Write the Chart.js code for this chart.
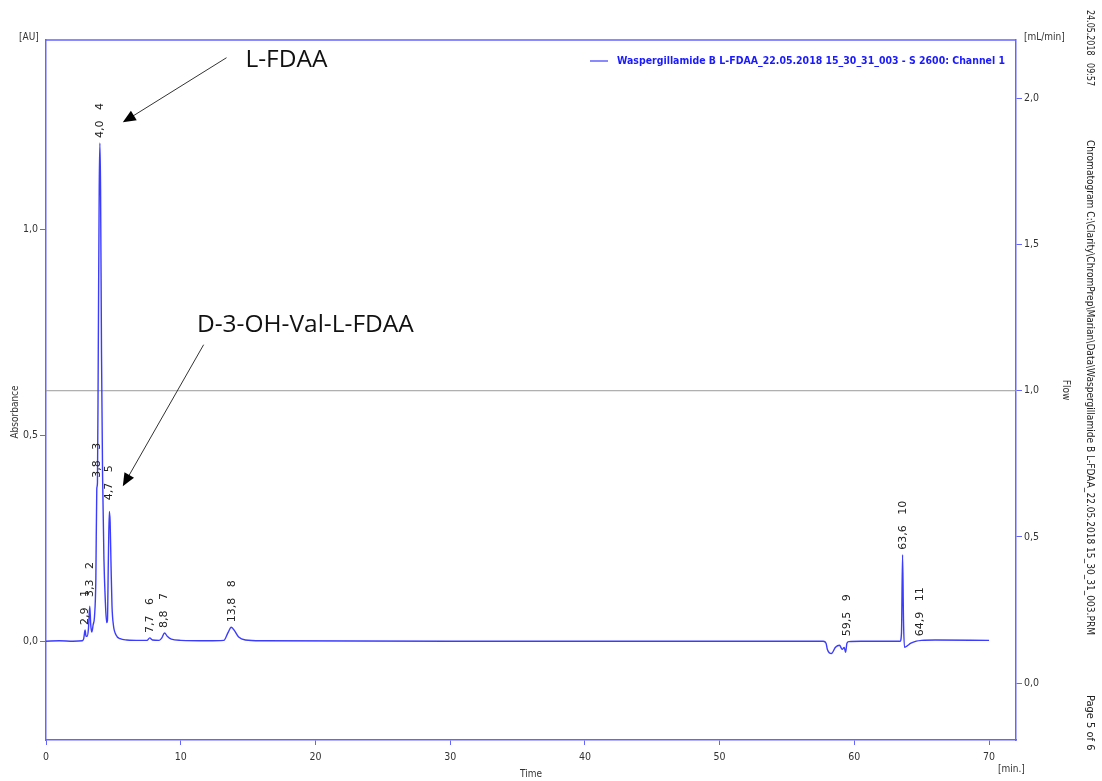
<!DOCTYPE html>
<html>
<head>
<meta charset="utf-8">
<script src="https://cdn.jsdelivr.net/npm/chart.js@4.4.1/dist/chart.umd.min.js"></script>
<style>
  body { margin: 0; background: #fff; }
  #wrap { width: 1102px; height: 781px; }
</style>
</head>
<body>
<div id="wrap"><canvas id="chromChart" width="1102" height="781"></canvas></div>
<script>
// ── DATA ──
// detector trace (time in min, absorbance in AU)
const traceTime = [0, 1, 2, 2.7, 2.8, 2.86, 2.9, 2.97, 3.05, 3.15, 3.25, 3.32, 3.4, 3.5, 3.6, 3.7, 3.77, 3.82,
  3.88, 3.95, 4.0, 4.05, 4.12, 4.2, 4.3, 4.4, 4.5, 4.56, 4.63, 4.7, 4.76, 4.83, 4.9, 5.0, 5.2, 5.5, 6, 7, 7.5,
  7.7, 7.9, 8.4, 8.6, 8.8, 9.0, 9.3, 10, 12, 13.2, 13.5, 13.75, 14.0, 14.3, 14.8, 16, 30, 45, 57.7, 57.9, 58.0,
  58.3, 58.6, 58.9, 59.1, 59.25, 59.35, 59.45, 59.6, 60.5, 63.4, 63.5, 63.58, 63.65, 63.72, 63.9, 64.2, 64.6,
  65, 66, 70];
const traceAU = [0, 0.001, 0, 0.001, 0.006, 0.02, 0.027, 0.012, 0.012, 0.03, 0.085, 0.04, 0.022, 0.04, 0.06,
  0.15, 0.37, 0.385, 0.7, 1.1, 1.21, 1.1, 0.7, 0.4, 0.2, 0.1, 0.045, 0.05, 0.2, 0.315, 0.29, 0.18, 0.085, 0.04,
  0.015, 0.006, 0.003, 0.002, 0.002, 0.008, 0.003, 0.002, 0.008, 0.02, 0.012, 0.005, 0.002, 0.001, 0.002, 0.02,
  0.034, 0.025, 0.01, 0.003, 0.001, 0, 0, 0, -0.005, -0.02, -0.03, -0.015, -0.01, -0.02, -0.015, -0.027, -0.005,
  -0.001, 0, 0, 0.02, 0.21, 0.05, -0.015, -0.012, -0.005, 0, 0.002, 0.003, 0.002];

// flow (mL/min)
const flowTime = [0, 72];
const flowRate = [1.0, 1.0];

// integrated peaks: retention time, peak number, apex used for the label
const peakTimes = [2.9, 3.3, 3.8, 4.0, 4.7, 7.7, 8.8, 13.8, 59.5, 63.6, 64.9];
const peakNumbers = [1, 2, 3, 4, 5, 6, 7, 8, 9, 10, 11];
const peakTops = [0.027, 0.095, 0.385, 1.21, 0.33, 0.008, 0.02, 0.034, 0.0, 0.21, 0.0];

// hand annotations (text anchor and arrow in data units)
const annoTexts = ['L-FDAA', 'D-3-OH-Val-L-FDAA'];
const annoTextT = [14.8, 11.2];
const annoTextA = [1.395, 0.752];
const arrowFromT = [13.4, 11.7];
const arrowFromA = [1.417, 0.72];
const arrowToT = [5.7, 5.7];
const arrowToA = [1.26, 0.376];

const legendText = 'Waspergillamide B L-FDAA_22.05.2018 15_30_31_003 - S 2600: Channel 1';
const sideTexts = ['24.05.2018   09:57',
  'Chromatogram C:\\Clarity\\ChromPrep\\Marian\\Data\\Waspergillamide B L-FDAA_22.05.2018 15_30_31_003.PRM',
  'Page 5 of 6'];

const AXIS = '#6464ff';
const TRACE = '#3c3cff';
const TXT = '#333';
const comma = v => v.toFixed(1).replace('.', ',');

// ── EXTRA DRAWING ──
const decorations = {
  id: 'decorations',
  afterDatasetsDraw(chart) {
    const { ctx, chartArea: ca, scales: { x, y } } = chart;
    ctx.save();

    // top frame line
    ctx.strokeStyle = AXIS;
    ctx.lineWidth = 1.5;
    ctx.beginPath();
    ctx.moveTo(ca.left, ca.top);
    ctx.lineTo(ca.right, ca.top);
    ctx.stroke();

    // peak labels
    ctx.font = '11px "DejaVu Sans"';
    ctx.fillStyle = '#222';
    ctx.textAlign = 'left';
    ctx.textBaseline = 'middle';
    peakTimes.forEach((t, i) => {
      ctx.save();
      ctx.translate(x.getPixelForValue(t), y.getPixelForValue(peakTops[i]) - 5);
      ctx.rotate(-Math.PI / 2);
      ctx.fillText(comma(t) + '   ' + peakNumbers[i], 0, 0);
      ctx.restore();
    });

    // annotations
    ctx.font = '24.5px "Open Sans"';
    ctx.textBaseline = 'alphabetic';
    annoTexts.forEach((s, i) => {
      ctx.fillStyle = '#111';
      ctx.fillText(s, x.getPixelForValue(annoTextT[i]), y.getPixelForValue(annoTextA[i]));
      const x0 = x.getPixelForValue(arrowFromT[i]), y0 = y.getPixelForValue(arrowFromA[i]);
      const x1 = x.getPixelForValue(arrowToT[i]), y1 = y.getPixelForValue(arrowToA[i]);
      const ang = Math.atan2(y1 - y0, x1 - x0);
      ctx.strokeStyle = '#333';
      ctx.lineWidth = 1;
      ctx.beginPath();
      ctx.moveTo(x0, y0);
      ctx.lineTo(x1 - 8 * Math.cos(ang), y1 - 8 * Math.sin(ang));
      ctx.stroke();
      ctx.fillStyle = '#000';
      ctx.beginPath();
      ctx.moveTo(x1, y1);
      ctx.lineTo(x1 - 13 * Math.cos(ang) + 5.5 * Math.sin(ang), y1 - 13 * Math.sin(ang) - 5.5 * Math.cos(ang));
      ctx.lineTo(x1 - 13 * Math.cos(ang) - 5.5 * Math.sin(ang), y1 - 13 * Math.sin(ang) + 5.5 * Math.cos(ang));
      ctx.closePath();
      ctx.fill();
    });

    // legend
    const ly = ca.top + 21;
    ctx.strokeStyle = TRACE;
    ctx.lineWidth = 1.2;
    ctx.beginPath();
    ctx.moveTo(590, ly);
    ctx.lineTo(608, ly);
    ctx.stroke();
    ctx.font = 'bold 10.5px "DejaVu Sans Condensed"';
    ctx.fillStyle = '#1a1aff';
    ctx.textBaseline = 'middle';
    ctx.fillText(legendText, 617, ly, 388);

    // unit labels
    ctx.font = '10px "DejaVu Sans Condensed"';
    ctx.fillStyle = TXT;
    ctx.fillText('[AU]', 19, 37);
    ctx.fillText('[mL/min]', 1024, 37);
    ctx.fillText('[min.]', 998, 769);

    // axis names
    ctx.save();
    ctx.translate(15, 412);
    ctx.rotate(-Math.PI / 2);
    ctx.textAlign = 'center';
    ctx.fillText('Absorbance', 0, 0);
    ctx.restore();
    ctx.save();
    ctx.translate(1066, 390);
    ctx.rotate(Math.PI / 2);
    ctx.textAlign = 'center';
    ctx.fillText('Flow', 0, 0);
    ctx.restore();

    // report side texts
    ctx.font = '11px "DejaVu Sans Condensed"';
    ctx.fillStyle = '#222';
    [[10, 76], [140, 495], [695, 62]].forEach(([top, len], i) => {
      ctx.save();
      ctx.translate(1090, top);
      ctx.rotate(Math.PI / 2);
      ctx.fillText(sideTexts[i], 0, 0, len);
      ctx.restore();
    });

    ctx.restore();
  }
};

// ── CHART ──
const ctx = document.getElementById('chromChart').getContext('2d');
const chromChart = new Chart(ctx, {
  type: 'line',
  data: {
    datasets: [{
      label: legendText,
      data: traceTime.map((t, i) => ({ x: t, y: traceAU[i] })),
      borderColor: TRACE,
      borderWidth: 1.4,
      pointRadius: 0,
      cubicInterpolationMode: 'monotone',
      yAxisID: 'y'
    }, {
      label: 'Flow',
      data: flowTime.map((t, i) => ({ x: t, y: flowRate[i] })),
      borderColor: '#9a9a9a',
      borderWidth: 1,
      pointRadius: 0,
      yAxisID: 'y2'
    }]
  },
  options: {
    responsive: false,
    animation: false,
    layout: { padding: { top: 40, left: 0, right: 0, bottom: 0 } },
    plugins: { legend: { display: false }, tooltip: { enabled: false } },
    scales: {
      x: {
        type: 'linear',
        min: 0, max: 72,
        afterFit: s => { s.height = 41; },
        grid: { drawOnChartArea: false, tickLength: 5, tickColor: AXIS },
        border: { color: AXIS, width: 1.5 },
        ticks: { stepSize: 10, includeBounds: false, maxRotation: 0, color: TXT, padding: 6,
                 font: { size: 10.5, family: 'DejaVu Sans Condensed' } },
        title: { display: true, text: 'Time', color: TXT, padding: { top: 0, bottom: 1 },
                 font: { size: 10, family: 'DejaVu Sans Condensed' } }
      },
      y: {
        position: 'left',
        min: -0.24, max: 1.46,
        afterFit: s => { s.width = 46; },
        grid: { drawOnChartArea: false, tickLength: 6, tickColor: AXIS },
        border: { color: AXIS, width: 1.5 },
        ticks: { stepSize: 0.5, includeBounds: false, color: TXT, padding: 2,
                 font: { size: 10.5, family: 'DejaVu Sans Condensed' }, callback: v => comma(v) }
      },
      y2: {
        position: 'right',
        min: -0.195, max: 2.2,
        afterFit: s => { s.width = 86; },
        grid: { drawOnChartArea: false, tickLength: 6, tickColor: AXIS },
        border: { color: AXIS, width: 1.5 },
        ticks: { stepSize: 0.5, includeBounds: false, color: TXT, padding: 2,
                 font: { size: 10.5, family: 'DejaVu Sans Condensed' }, callback: v => comma(v) }
      }
    }
  },
  plugins: [decorations]
});
</script>
</body>
</html>
